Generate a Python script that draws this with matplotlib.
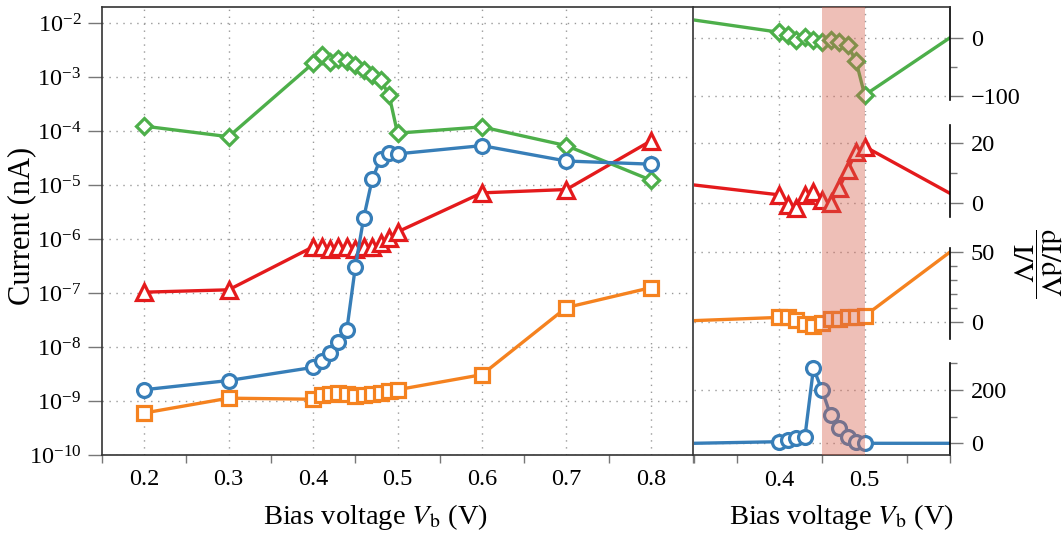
from matplotlib import pyplot as plt
from matplotlib.patches import Rectangle
from matplotlib.transforms import blended_transform_factory
from matplotlib.ticker import FixedLocator, NullLocator

plt.rcParams['font.family'] = ['Liberation Serif', 'DejaVu Serif']
plt.rcParams['mathtext.fontset'] = 'stix'

# Current vs bias voltage (nA)
bias = [0.2, 0.3, 0.4, 0.41, 0.42, 0.43, 0.44, 0.45, 0.46, 0.47, 0.48, 0.49, 0.5, 0.6, 0.7, 0.8]
cur_green = [1.24e-4, 7.9e-5, 1.81e-3, 2.58e-3, 1.89e-3, 2.18e-3, 2.03e-3, 1.68e-3, 1.36e-3, 1.10e-3,
             8.9e-4, 4.7e-4, 9.2e-5, 1.2e-4, 5.4e-5, 1.24e-5]
cur_blue = [1.62e-9, 2.4e-9, 4.2e-9, 5.5e-9, 7.7e-9, 1.24e-8, 2.1e-8, 3.0e-7, 2.5e-6, 1.28e-5,
            3.1e-5, 3.9e-5, 3.8e-5, 5.4e-5, 2.8e-5, 2.45e-5]
cur_red = [1.04e-7, 1.15e-7, 7.2e-7, 7.0e-7, 6.7e-7, 7.0e-7, 7.0e-7, 6.7e-7, 7.0e-7, 7.2e-7,
           8.3e-7, 1.03e-6, 1.36e-6, 7.2e-6, 8.3e-6, 6.6e-5]
cur_orange = [6.0e-10, 1.13e-9, 1.08e-9, 1.27e-9, 1.36e-9, 1.40e-9, 1.33e-9, 1.25e-9, 1.27e-9, 1.33e-9,
              1.40e-9, 1.51e-9, 1.62e-9, 3.08e-9, 5.4e-8, 1.26e-7]

# Normalised differential conductance (dI/dV)/(I/V) around the transition
bias_zoom = [0.3, 0.4, 0.41, 0.42, 0.43, 0.44, 0.45, 0.46, 0.47, 0.48, 0.49, 0.5, 0.6]
ndc_green = [30.5, 9.3, 4.6, -4, 1.7, -4, -6.9, -4, -7, -12.6, -41, -99, 0]
ndc_red = [6.1, 2.8, -0.6, -1.7, 2.8, 3.9, 1.1, 0, 5, 11.1, 17.2, 18.9, 3.3]
ndc_orange = [1.0, 3.3, 3.3, 1.4, -1.4, -2.9, -1.0, 1.9, 2.4, 3.3, 3.8, 4.3, 50]
ndc_blue = [0, 6, 12.5, 19, 25, 281, 200, 106, 56, 25, 6, 0, 0]

c_green = '#4daf4a'
c_blue = '#377eb8'
c_red = '#e41a1c'
c_orange = '#f5821f'
grid_kw = dict(color='#999999', linewidth=1.0, linestyle=(0, (1, 4)))
spine_col = '#333333'
tick_col = '#777777'
tick_fs = 17.5

W, H = 1063, 537
fig = plt.figure(figsize=(W / 100, H / 100), dpi=100)


def frac_box(x0, y0, x1, y1):
    return [x0 / W, 1 - y1 / H, (x1 - x0) / W, (y1 - y0) / H]


# ---- left panel: log current ----
ax = fig.add_axes(frac_box(102, 7, 693, 455))
mk = dict(markerfacecolor='white', markeredgewidth=2.3, linewidth=2.4)
ax.plot(bias, cur_red, '^', color=c_red, markersize=11, linestyle='-', **mk)
ax.plot(bias, cur_green, 'D', color=c_green, markersize=8.5, linestyle='-', **mk)
ax.plot(bias, cur_blue, 'o', color=c_blue, markersize=10, linestyle='-', **mk)
ax.plot(bias, cur_orange, 's', color=c_orange, markersize=9.5, linestyle='-', **mk)
ax.set_yscale('log')
ax.set_xlim(0.15, 0.85)
ax.set_ylim(1e-10, 2e-2)
ax.yaxis.set_major_locator(FixedLocator([10.0 ** k for k in range(-10, -1)]))
ax.yaxis.set_minor_locator(NullLocator())
ax.xaxis.set_major_locator(FixedLocator([0.2, 0.3, 0.4, 0.5, 0.6, 0.7, 0.8]))
ax.xaxis.set_minor_locator(FixedLocator([0.15, 0.25, 0.35, 0.45, 0.55, 0.65, 0.75, 0.85]))
ax.tick_params(axis='x', which='major', length=0, pad=10, labelsize=tick_fs)
ax.tick_params(axis='x', which='minor', length=6, color=tick_col, width=1)
ax.tick_params(axis='y', which='major', length=10, color=tick_col, width=1, pad=5, labelsize=tick_fs)
ax.grid(True, which='major', **grid_kw)
for s in ax.spines.values():
    s.set_color(spine_col)
    s.set_linewidth(1.2)

# ---- right panel: four stacked normalised-conductance axes ----
bands = [(7, 112), (112, 233), (233, 351), (351, 455)]
rows = [
    (ndc_green, c_green, 'D', 8.5, (-128.1, 52.9), (-107.4, 52.9), [-100, 0], [-50]),
    (ndc_red, c_red, '^', 11, (-9.9, 30.4), (-4.6, 26.1), [0, 20], [10]),
    (ndc_orange, c_orange, 's', 9.5, (-20.7, 63.6), (-12.1, 52.9), [0, 50], [10, 20, 30, 40]),
    (ndc_blue, c_blue, 'o', 10, (-43.9, 346.3), (-43.9, 301), [0, 200], [100, 300]),
]
right_axes = []
for (top, bot), (vals, col, m, ms, ylim, bounds, majors, minors) in zip(bands, rows):
    a = fig.add_axes(frac_box(694, top, 950, bot), facecolor='none')
    a.plot(bias_zoom, vals, marker=m, color=col, markersize=ms, markevery=list(range(1, 12)), **mk)
    a.set_xlim(0.3, 0.6)
    a.set_ylim(*ylim)
    a.yaxis.tick_right()
    a.yaxis.set_major_locator(FixedLocator(majors))
    a.yaxis.set_minor_locator(FixedLocator(minors))
    a.tick_params(axis='y', which='major', length=9, color=tick_col, width=1, pad=6, labelsize=tick_fs)
    a.tick_params(axis='y', which='minor', length=5, color=tick_col, width=1)
    a.xaxis.set_major_locator(FixedLocator([0.4, 0.5]))
    a.grid(True, which='major', **grid_kw)
    for side in ('left', 'top', 'bottom'):
        a.spines[side].set_visible(False)
    a.spines['right'].set_bounds(*bounds)
    a.spines['right'].set_color('black')
    a.spines['right'].set_linewidth(1.2)
    a.tick_params(axis='x', which='both', bottom=False, labelbottom=False)
    right_axes.append(a)

right_axes[0].spines['top'].set_visible(True)
right_axes[0].spines['top'].set_color(spine_col)
right_axes[0].spines['top'].set_linewidth(1.2)

axb = right_axes[-1]
axb.spines['bottom'].set_visible(True)
axb.spines['bottom'].set_color(spine_col)
axb.spines['bottom'].set_linewidth(1.2)
axb.xaxis.set_minor_locator(FixedLocator([0.3, 0.35, 0.45, 0.55, 0.6]))
axb.tick_params(axis='x', which='major', bottom=True, labelbottom=True, length=0, pad=11, labelsize=tick_fs)
axb.tick_params(axis='x', which='minor', bottom=True, length=6, color=tick_col, width=1)

# shaded transition window spanning all four right-hand axes
span = Rectangle((0.45, 1 - 455 / H), 0.05, (455 - 7) / H,
                 transform=blended_transform_factory(axb.transData, fig.transFigure),
                 facecolor='#d6604d', alpha=0.4, edgecolor='none', zorder=5)
fig.add_artist(span)

# axis labels
fig.text(22 / W, 1 - 226 / H, 'Current (nA)', rotation=90, ha='center', va='center', fontsize=22)
fig.text(375 / W, 1 - 524 / H, r'Bias voltage $V_\mathrm{b}$ (V)', ha='center', va='baseline', fontsize=20.5)
fig.text(841 / W, 1 - 524 / H, r'Bias voltage $V_\mathrm{b}$ (V)', ha='center', va='baseline', fontsize=20.5)
fig.text(1036 / W, 1 - 263 / H, r'$\dfrac{\mathrm{dI/dV}}{\mathrm{I/V}}$', rotation=270,
         ha='center', va='center', fontsize=21)

fig.savefig('out.png', dpi=100)
